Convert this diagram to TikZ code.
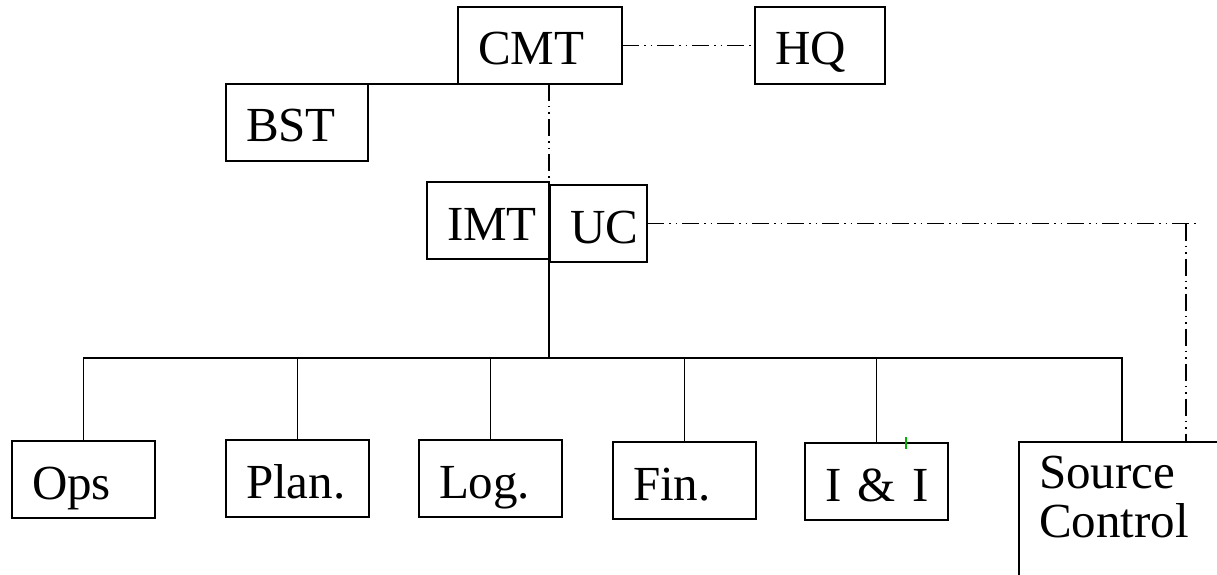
\documentclass[tikz,border=0pt]{standalone}
\usepackage{fontspec}
\setmainfont{Liberation Serif}

\tikzset{
  boxbase/.style={draw, line width=1.2pt, anchor=north west, inner xsep=20pt,
    inner ysep=0pt, outer sep=0pt, align=left, font=\fontsize{49}{49}\selectfont},
  teambox/.style={boxbase, text width=#1, text height=58pt, text depth=19pt},
  teambox/.default=103pt,
  link/.style={line width=1.7pt},
  dashdot/.style={link, dash pattern=on 17pt off 5pt on 1.5pt off 5pt on 1.5pt off 5pt},
}

\begin{document}
\begin{tikzpicture}[x=1pt,y=-1pt]
  \useasboundingbox (0,0) rectangle (1217,575);
  \clip (0,0) rectangle (1217,575);

  % top level
  \node[teambox=124pt] (cmt) at (458,7) {CMT};
  \node[teambox=90pt] (hq) at (755,7) {HQ};
  \node[teambox=102pt] (bst) at (226,84) {BST};
  \node[teambox=82pt] (imt) at (427,182) {IMT};
  \node[teambox=57pt] (uc) at (550,185) {UC};

  % sections
  \foreach \name/\x/\y/\txt in {ops/12/441/Ops, plan/226/440/Plan., log/419/440/Log.,
      fin/613/442/Fin., ii/805/443/{I~\&~I}}
    \node[teambox] (\name) at (\x,\y) {\txt};
  \node[boxbase, text width=200pt] (src) at (1019,442)
    {\rule{0pt}{46pt}Source\\Control\rule[-140pt]{0pt}{140pt}};

  % links
  \draw[dashdot] (cmt.east) -- (hq.west);
  \draw[link] (bst.north east) -- (cmt.south west);
  \draw[dashdot] (imt.north east |- cmt.south) -- (imt.north east);
  \coordinate (bus) at (549,358);
  \draw[link] (imt.south east) -- (bus);
  \foreach \name in {ops,plan,log,fin,ii}
    \draw[link] (bus) -| (\name.north);
  \draw[link] (bus) -| ([xshift=103pt]src.north west);

  \coordinate (turn) at (1186,223.5);
  \draw[dashdot] (uc.east) -- ([xshift=11pt]turn);
  \draw[dashdot] (turn) -- (turn |- src.north);

  \draw[green!70!black, line width=1.5pt] (906,437) -- (906,449);
\end{tikzpicture}
\end{document}
